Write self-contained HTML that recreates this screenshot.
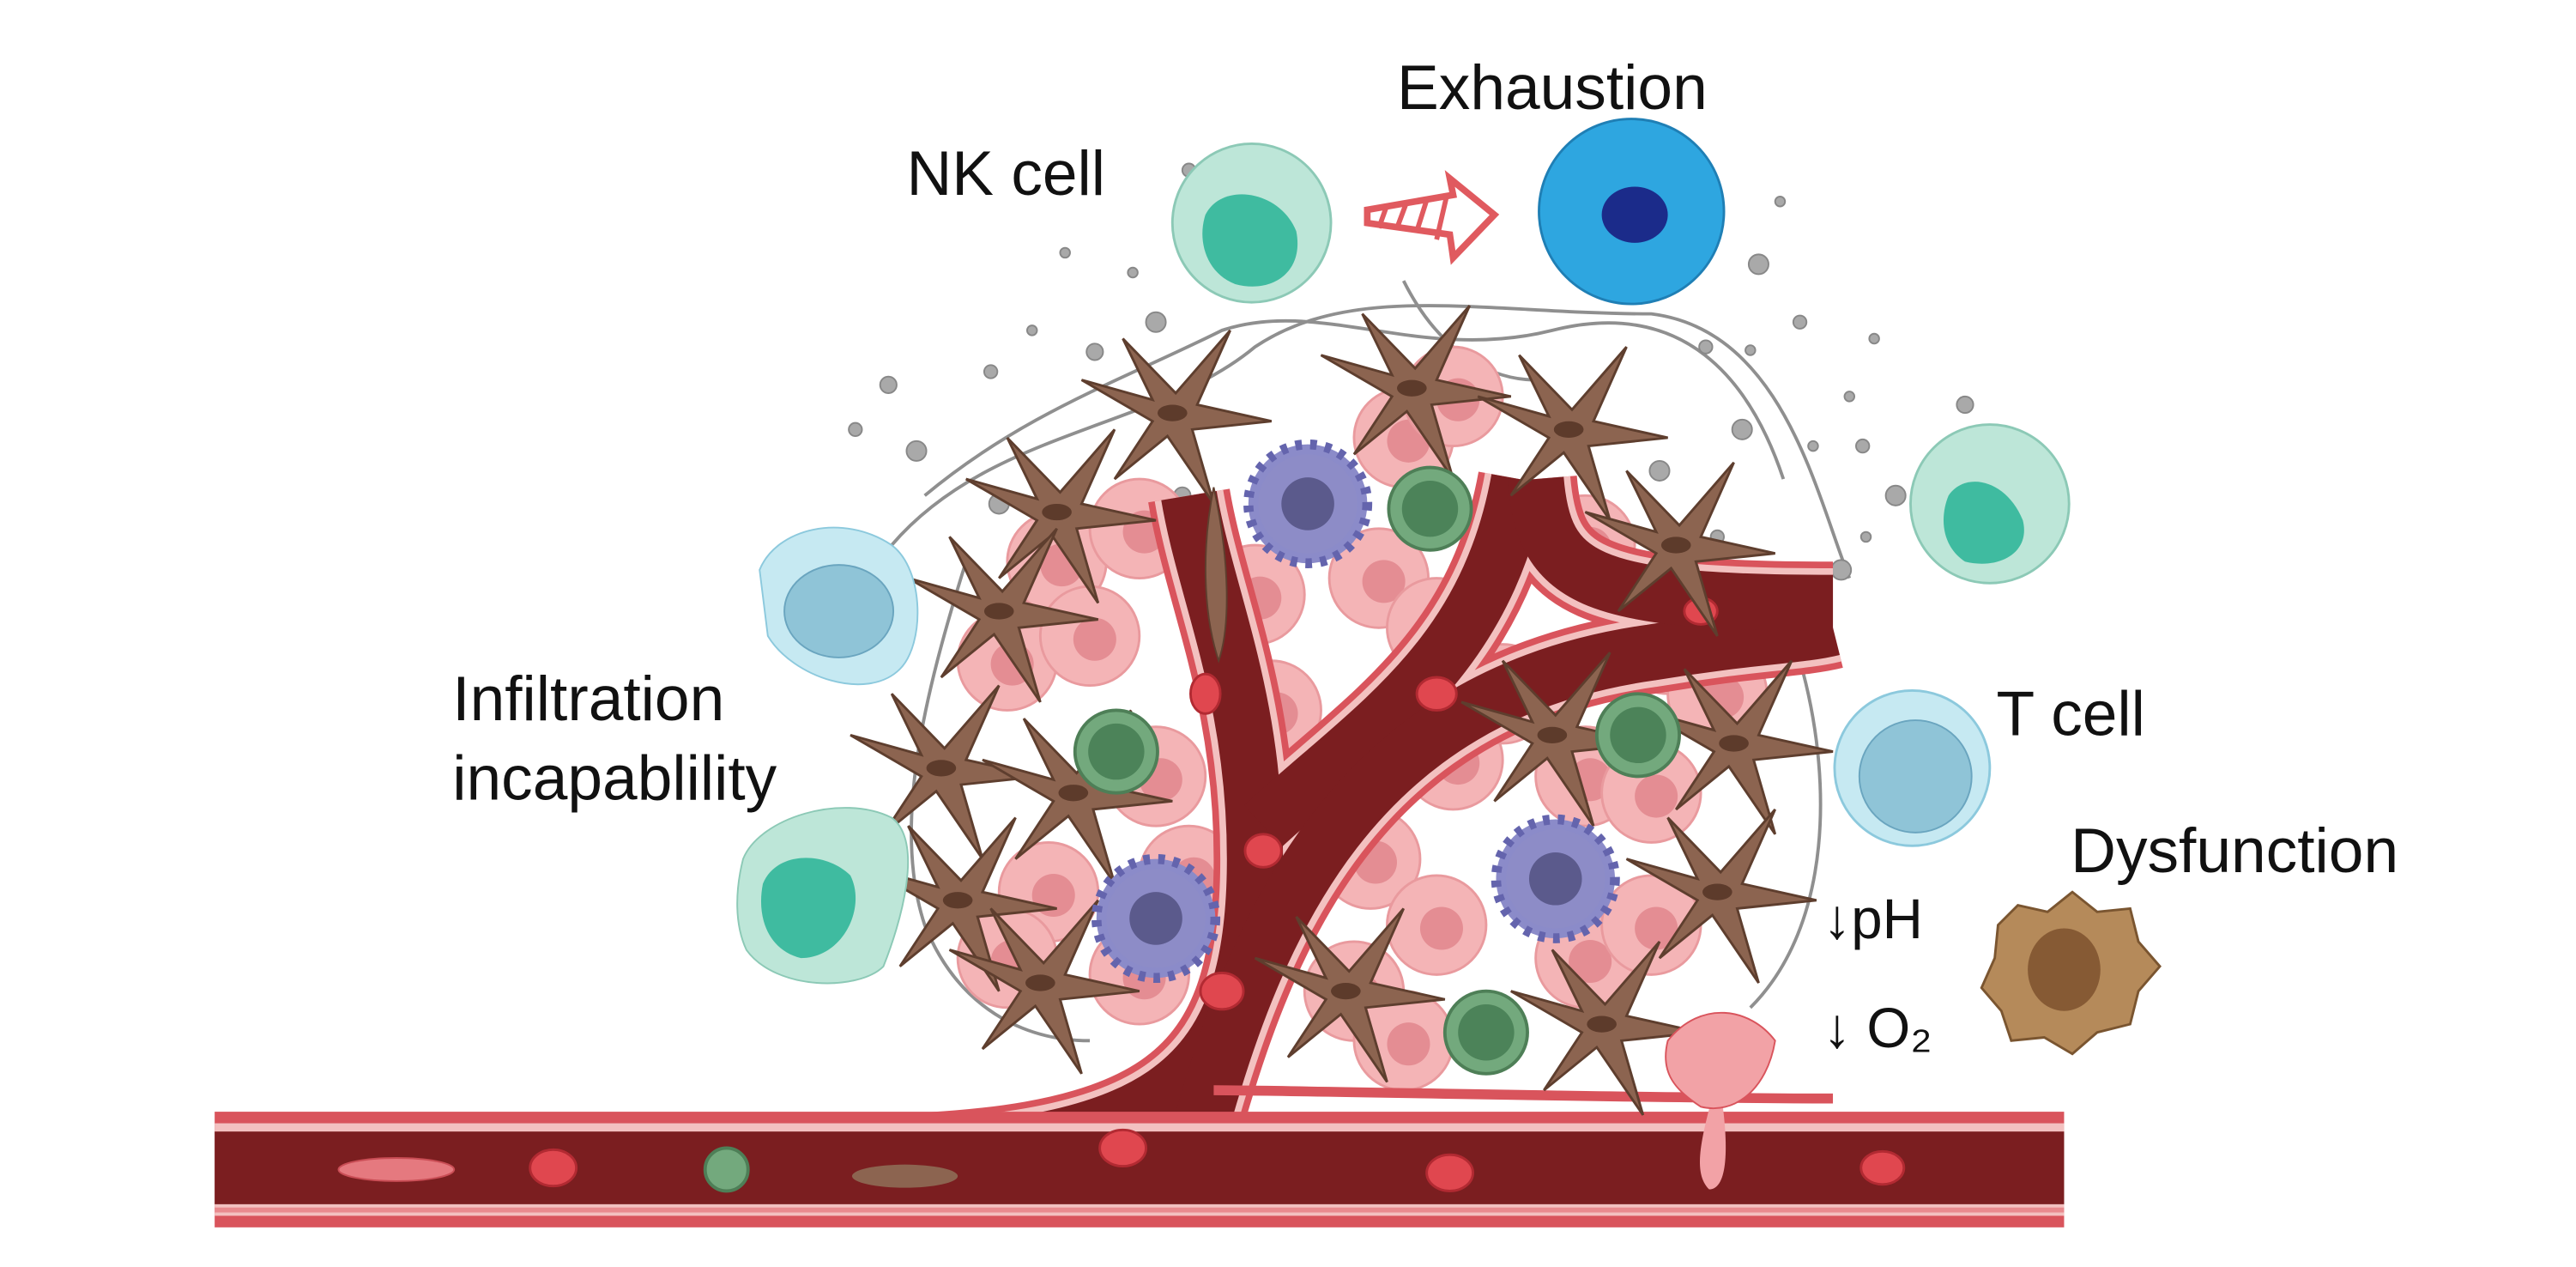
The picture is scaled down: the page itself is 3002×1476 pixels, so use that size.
<!DOCTYPE html>
<html><head><meta charset="utf-8"><style>
html,body{margin:0;padding:0;background:#fff;}
svg{display:block;}
text{font-family:"Liberation Sans",sans-serif;fill:#111;}
</style></head><body>
<svg width="3002" height="1476" viewBox="0 0 1560 767" xmlns="http://www.w3.org/2000/svg">
<defs>
<g id="tc"><circle r="30" fill="#f4b4b6" stroke="#e99a9e" stroke-width="1.5"/><circle r="13" cx="3" cy="2" fill="#e48d93"/></g>
<g id="fb"><path d="M-55,-20 L-12,-8 L-30,-45 L2,-12 L35,-50 L15,-5 L60,5 L12,10 L25,55 L-3,14 L-35,40 L-12,5 Z" fill="#8c6450" stroke="#5e3e2e" stroke-width="1.5"/><ellipse rx="9" ry="5" fill="#5d3b2b"/></g>
<g id="gc"><circle r="25" fill="#73a97d" stroke="#4e7f57" stroke-width="2"/><circle r="17" fill="#4c8359"/></g>
<g id="dc"><circle r="36" fill="#8b8bc9" stroke="#6464ad" stroke-width="6" stroke-dasharray="4 5"/><circle r="30" fill="#8d8cc7"/><circle r="16" fill="#5b5a8c"/></g>
</defs>

<g fill="none" stroke="#8f8f8f" stroke-width="2">
<path d="M540,330 C600,260 700,260 760,210 C820,170 900,190 1000,190 C1080,200 1100,300 1120,350"/>
<path d="M560,300 C620,250 680,230 740,200 C800,180 860,220 940,200 C1020,180 1060,230 1080,290"/>
<path d="M585,340 C560,420 540,500 560,560 C580,610 620,630 660,630"/>
<path d="M1090,400 C1110,470 1110,560 1060,610"/>
<path d="M850,170 C870,210 900,230 930,230"/>
</g>

<g fill="#a9a9a9" stroke="#888" stroke-width="1">
<circle cx="538" cy="233" r="5"/><circle cx="555" cy="273" r="6"/><circle cx="518" cy="260" r="4"/><circle cx="600" cy="225" r="4"/><circle cx="605" cy="305" r="6"/><circle cx="625" cy="200" r="3"/><circle cx="645" cy="153" r="3"/><circle cx="663" cy="213" r="5"/><circle cx="686" cy="165" r="3"/><circle cx="700" cy="195" r="6"/><circle cx="720" cy="103" r="4"/><circle cx="716" cy="300" r="5"/><circle cx="1065" cy="160" r="6"/><circle cx="1078" cy="122" r="3"/><circle cx="1090" cy="195" r="4"/><circle cx="1033" cy="210" r="4"/><circle cx="1060" cy="212" r="3"/><circle cx="1120" cy="240" r="3"/><circle cx="1135" cy="205" r="3"/><circle cx="1190" cy="245" r="5"/><circle cx="1148" cy="300" r="6"/><circle cx="1128" cy="270" r="4"/><circle cx="1098" cy="270" r="3"/><circle cx="1130" cy="325" r="3"/><circle cx="1115" cy="345" r="6"/><circle cx="1005" cy="285" r="6"/><circle cx="1055" cy="260" r="6"/><circle cx="1040" cy="325" r="4"/><circle cx="680" cy="300" r="4"/><circle cx="960" cy="260" r="4"/>
</g>

<g>
<use href="#tc" x="640" y="340"/><use href="#tc" x="610" y="400"/><use href="#tc" x="660" y="385"/><use href="#tc" x="690" y="320"/><use href="#tc" x="700" y="470"/><use href="#tc" x="635" y="540"/><use href="#tc" x="610" y="580"/><use href="#tc" x="690" y="590"/><use href="#tc" x="760" y="360"/><use href="#tc" x="770" y="430"/><use href="#tc" x="850" y="265"/><use href="#tc" x="880" y="240"/><use href="#tc" x="835" y="350"/><use href="#tc" x="870" y="380"/><use href="#tc" x="960" y="330"/><use href="#tc" x="1010" y="390"/><use href="#tc" x="880" y="460"/><use href="#tc" x="910" y="420"/><use href="#tc" x="960" y="470"/><use href="#tc" x="1000" y="480"/><use href="#tc" x="830" y="520"/><use href="#tc" x="820" y="600"/><use href="#tc" x="870" y="560"/><use href="#tc" x="960" y="580"/><use href="#tc" x="1000" y="560"/><use href="#tc" x="850" y="630"/><use href="#tc" x="1040" y="420"/><use href="#tc" x="720" y="530"/>
</g>

<g fill="none" stroke-linecap="butt">
<g stroke="#d9545c" stroke-width="50">
<path d="M500,700 C700,700 760,660 760,520 C760,420 730,360 720,300"/>
<path d="M765,500 C830,440 900,400 920,290"/>
<path d="M725,690 C760,560 820,420 1000,395 C1060,385 1090,385 1110,380"/>
<path d="M930,290 C935,350 960,365 1110,365"/>
</g>
<g stroke="#f3c1c0" stroke-width="42">
<path d="M500,700 C700,700 760,660 760,520 C760,420 730,360 720,300"/>
<path d="M765,500 C830,440 900,400 920,290"/>
<path d="M725,690 C760,560 820,420 1000,395 C1060,385 1090,385 1110,380"/>
<path d="M930,290 C935,350 960,365 1110,365"/>
</g>
<g stroke="#7b1e20" stroke-width="34">
<path d="M500,700 C700,700 760,660 760,520 C760,420 730,360 720,300"/>
<path d="M765,500 C830,440 900,400 920,290"/>
<path d="M725,690 C760,560 820,420 1000,395 C1060,385 1090,385 1110,380"/>
<path d="M930,290 C935,350 960,365 1110,365"/>
</g>
<path d="M735,660 C780,660 1000,665 1110,665" stroke="#d9545c" stroke-width="6"/>
</g>
<rect x="130" y="673" width="1120" height="70" fill="#d9545c"/>
<rect x="130" y="680" width="1120" height="56" fill="#f3c1c0"/>
<rect x="130" y="685" width="1120" height="44" fill="#7b1e20"/>
<rect x="130" y="731" width="1120" height="3" fill="#e98a8e"/>

<g fill="#e0474f" stroke="#b22a32" stroke-width="1.5">
<ellipse cx="335" cy="707" rx="14" ry="11"/><ellipse cx="680" cy="695" rx="14" ry="11"/><ellipse cx="878" cy="710" rx="14" ry="11"/><ellipse cx="1140" cy="707" rx="13" ry="10"/>
<ellipse cx="740" cy="600" rx="13" ry="11"/><ellipse cx="765" cy="515" rx="11" ry="10"/><ellipse cx="730" cy="420" rx="9" ry="12"/><ellipse cx="870" cy="420" rx="12" ry="10"/><ellipse cx="1030" cy="370" rx="10" ry="8"/>
</g>
<ellipse cx="240" cy="708" rx="35" ry="7" fill="#e5797f" stroke="#c94d55"/>
<ellipse cx="548" cy="712" rx="32" ry="7" fill="#8c6450"/>
<circle cx="440" cy="708" r="13" fill="#73a97d" stroke="#4e7f57" stroke-width="2"/>
<path d="M1038,660 C1030,690 1025,710 1035,720 C1045,720 1048,700 1042,660 Z" fill="#f2a2a6"/>

<use href="#fb" x="710" y="250"/>
<use href="#fb" x="640" y="310"/>
<use href="#fb" x="605" y="370"/>
<use href="#fb" x="570" y="465"/>
<use href="#fb" x="650" y="480"/>
<use href="#fb" x="580" y="545"/>
<use href="#fb" x="630" y="595"/>
<use href="#fb" x="855" y="235"/>
<use href="#fb" x="950" y="260"/>
<use href="#fb" x="1015" y="330"/>
<use href="#fb" x="940" y="445"/>
<use href="#fb" x="1050" y="450"/>
<use href="#fb" x="1040" y="540"/>
<use href="#fb" x="815" y="600"/>
<use href="#fb" x="970" y="620"/>
<path d="M735,295 C745,340 745,380 738,400 C728,370 728,330 735,295Z" fill="#8c6450" stroke="#5e3e2e"/>

<use href="#dc" x="792" y="305"/><use href="#dc" x="700" y="556"/><use href="#dc" x="942" y="532"/>
<use href="#gc" x="866" y="308"/><use href="#gc" x="676" y="455"/><use href="#gc" x="992" y="445"/><use href="#gc" x="900" y="625"/>
<path d="M1010,630 C1030,605 1060,610 1075,630 C1070,660 1050,675 1030,670 C1015,660 1005,650 1010,630Z" fill="#f2a2a6" stroke="#d9545c"/>

<circle cx="758" cy="135" r="48" fill="#bde6d8" stroke="#8cc9b6" stroke-width="1.5"/>
<path d="M730,130 C740,110 775,115 785,140 C790,165 770,178 748,172 C730,165 725,145 730,130Z" fill="#3fbba0"/>
<circle cx="1205" cy="305" r="48" fill="#bde6d8" stroke="#8cc9b6" stroke-width="1.5"/>
<path d="M1180,300 C1190,285 1215,290 1225,315 C1230,335 1210,345 1190,340 C1175,330 1175,312 1180,300Z" fill="#3fbba0"/>
<circle cx="988" cy="128" r="56" fill="#2ea6e0" stroke="#1f7fb5" stroke-width="1.5"/>
<ellipse cx="990" cy="130" rx="20" ry="17" fill="#1b2b8a"/>
<path d="M828,127 L880,118 L878,108 L905,130 L880,156 L878,142 L828,135 Z" fill="none" stroke="#e05a5f" stroke-width="4"/>
<path d="M840,124 L835,138 M852,122 L846,138 M864,121 L858,140 M876,119 L870,145" stroke="#e05a5f" stroke-width="3"/>
<circle cx="1158" cy="465" r="47" fill="#c6e9f2" stroke="#8cc9dd" stroke-width="1.5"/>
<circle cx="1160" cy="470" r="34" fill="#8fc4d7" stroke="#6aa5bf"/>
<path d="M460,345 C470,320 510,310 540,330 C560,345 560,390 545,405 C525,425 480,410 465,385 Z" fill="#c6e9f2" stroke="#8cc9dd"/>
<ellipse cx="508" cy="370" rx="33" ry="28" fill="#8fc4d7" stroke="#6aa5bf"/>
<path d="M450,520 C460,495 510,480 540,495 C560,510 545,560 535,585 C520,600 470,600 452,575 C445,560 445,540 450,520Z" fill="#bde6d8" stroke="#8cc9b6"/>
<path d="M462,535 C470,515 500,515 515,530 C525,550 510,580 485,580 C465,575 458,555 462,535Z" fill="#3fbba0"/>
<path d="M1210,560 L1222,548 L1240,552 L1255,540 L1270,552 L1290,550 L1295,570 L1308,585 L1295,600 L1290,620 L1270,625 L1255,638 L1238,628 L1218,630 L1212,612 L1200,598 L1208,580 Z" fill="#b58a5a" stroke="#7a5530" stroke-width="1.5"/>
<ellipse cx="1250" cy="587" rx="22" ry="25" fill="#865a34"/>

<text x="549" y="118" font-size="38">NK cell</text>
<text x="846" y="66" font-size="38">Exhaustion</text>
<text x="274" y="436" font-size="38">Infiltration</text>
<text x="274" y="484" font-size="38">incapablility</text>
<text x="1209" y="445" font-size="38">T cell</text>
<text x="1254" y="528" font-size="38">Dysfunction</text>
<text x="1104" y="568" font-size="34">↓pH</text>
<text x="1104" y="634" font-size="34">↓ O₂</text>
</svg>
</body></html>
